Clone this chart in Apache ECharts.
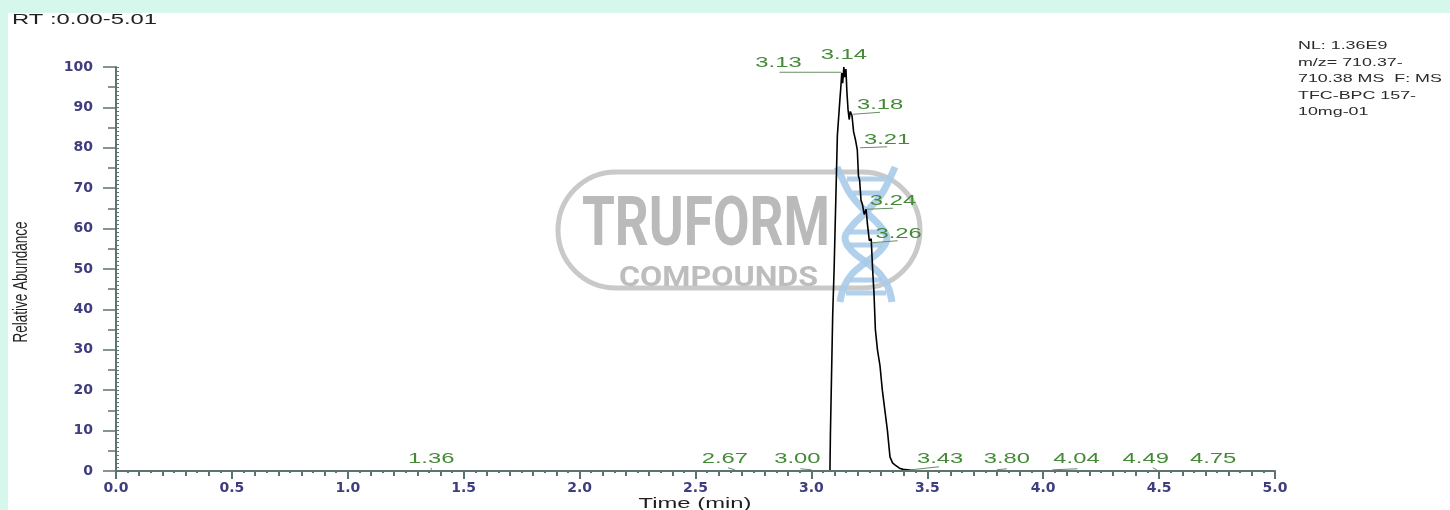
<!DOCTYPE html>
<html>
<head>
<meta charset="utf-8">
<script src="https://cdn.jsdelivr.net/npm/echarts@6/dist/echarts.min.js"></script>
<style>
  html, body { margin: 0; padding: 0; background: #d5f7ec; width: 1450px; height: 510px; overflow: hidden; }
  #wb { position: absolute; left: 8px; top: 13px; width: 1442px; height: 497px; background: #ffffff; }
  #chart { position: absolute; left: 0; top: 0; width: 1450px; height: 510px; }
</style>
</head>
<body>
<div id="wb"></div>
<div id="chart"></div>
<script>
// ---- data ----
const times = [0, 3.080, 3.082, 3.092, 3.098, 3.112, 3.123, 3.127, 3.131, 3.135, 3.140, 3.144, 3.149, 3.153, 3.158, 3.163, 3.168, 3.175, 3.182, 3.190, 3.198, 3.203, 3.208, 3.214, 3.220, 3.228, 3.236, 3.242, 3.250, 3.258, 3.264, 3.270, 3.276, 3.285, 3.296, 3.306, 3.317, 3.328, 3.339, 3.350, 3.360, 3.380, 3.396, 3.440, 3.493, 5.0];
const abundance = [0, 0, 9, 39, 50, 83, 92, 95, 98.5, 96, 100, 97.5, 99.5, 94, 89.5, 87, 89, 88, 84, 82, 79.5, 73, 72, 67, 66, 63.5, 64.8, 61, 57, 57.5, 50, 44, 35, 30, 26, 20, 15, 10, 3.5, 2, 1.5, 0.7, 0.4, 0.1, 0, 0];

const peakRT = [3.13, 3.14, 3.18, 3.21, 3.24, 3.26, 1.36, 2.67, 3.00, 3.43, 3.80, 4.04, 4.49, 4.75];
const peakAbund = [98.7, 100, 88.3, 80, 64.8, 56.5, 0.3, 0.3, 0.3, 0.3, 0.3, 0.3, 0.3, 0.3];
const peakText = ['3.13', '3.14', '3.18', '3.21', '3.24', '3.26', '1.36', '2.67', '3.00', '3.43', '3.80', '4.04', '4.49', '4.75'];

const headerText = 'RT :0.00-5.01';
const infoLines = ['NL: 1.36E9', 'm/z= 710.37-', '710.38 MS  F: MS', 'TFC-BPC 157-', '10mg-01'];
const xAxisTitle = 'Time (min)';
const yAxisTitle = 'Relative Abundance';

// ---- styles (pixel offsets of label text / leader line from each peak apex) ----
const labelStyle = [
  { tx: -63, ty: -9, lx: -62, ly: 0 },
  { tx: 0, ty: -12, lx: 0, ly: 0 },
  { tx: 27, ty: -9, lx: 27, ly: -2 },
  { tx: 27, ty: -8, lx: 27, ly: -1 },
  { tx: 26, ty: -8, lx: 26, ly: -1 },
  { tx: 27, ty: -9, lx: 26, ly: -2 },
  { tx: 0, ty: -11, lx: 0, ly: -2 },
  { tx: -10, ty: -11, lx: -7, ly: -2 },
  { tx: -14, ty: -11, lx: -11, ly: -1 },
  { tx: 29, ty: -11, lx: 28, ly: -3 },
  { tx: 10, ty: -11, lx: 10, ly: -1 },
  { tx: 24, ty: -11, lx: 25, ly: -1 },
  { tx: -11, ty: -11, lx: -4, ly: -2 },
  { tx: -4, ty: -11, lx: 0, ly: 0 }
];

const axisColor = '#5d7371';
const tickLabelColor = '#3e3d7e';
const peakLabelColor = '#458a38';
const leaderColor = '#6a8c64';
const dnaColor = '#a9cbe9';
const STRETCH = 1.7;

const chart = echarts.init(document.getElementById('chart'), null, { renderer: 'canvas' });

const GRID = { left: 116, top: 67, width: 1159, height: 404 };

// DNA strand outline points (decorative watermark)
const dnaA = [[837,167],[842,178],[851,195],[866,212],[880,226],[887,238],[880,251],[866,262],[852,274],[844,287],[840,302]];
const dnaB = dnaA.map(p => [1732 - p[0], p[1]]);
const dnaRungs = [[847,179,885,179],[853,193,879,193],[850,232,882,232],[850,245,882,245],[850,280,882,280],[846,293,886,293]];

const graphics = [
  { type: 'rect', z: 1, silent: true, shape: { x: 558, y: 172, width: 362, height: 116, r: 58 },
    style: { fill: 'none', stroke: '#c9c9c9', lineWidth: 5 } },
  { type: 'text', z: 1, silent: true, x: 582, y: 228, scaleX: 0.78,
    style: { text: 'TRUFORM', font: 'bold 68px Roboto', fill: '#bababa', align: 'left', verticalAlign: 'middle', textAlign: 'left', textVerticalAlign: 'middle' } },
  { type: 'text', z: 1, silent: true, x: 619, y: 279, scaleX: 1.15,
    style: { text: 'COMPOUNDS', font: 'bold 28px Roboto', fill: '#bdbdbd', align: 'left', verticalAlign: 'middle', textAlign: 'left', textVerticalAlign: 'middle' } },
  { type: 'polyline', z: 1, silent: true, shape: { points: dnaA, smooth: 0.4 },
    style: { stroke: dnaColor, lineWidth: 7, fill: 'none', opacity: 0.9 } },
  { type: 'polyline', z: 1, silent: true, shape: { points: dnaB, smooth: 0.4 },
    style: { stroke: dnaColor, lineWidth: 7, fill: 'none', opacity: 0.9 } }
];
dnaRungs.forEach(r => graphics.push({ type: 'line', z: 1, silent: true,
  shape: { x1: r[0], y1: r[1], x2: r[2], y2: r[3] }, style: { stroke: dnaColor, lineWidth: 5, opacity: 0.9 } }));
graphics.push(
  { type: 'text', z: 10, x: 12, y: 20, scaleX: STRETCH,
    style: { text: headerText, font: '14px "Liberation Sans"', fill: '#222222', align: 'left', verticalAlign: 'middle', textAlign: 'left', textVerticalAlign: 'middle' } },
  { type: 'text', z: 10, x: 1298, y: 38, scaleX: STRETCH,
    style: { text: infoLines.join('\n'), font: '10.5px "Liberation Sans"', lineHeight: 16.5, fill: '#2a2a2a', align: 'left', verticalAlign: 'top', textAlign: 'left', textVerticalAlign: 'top' } },
  { type: 'text', z: 10, x: 695, y: 504, scaleX: STRETCH,
    style: { text: xAxisTitle, font: '14px "Liberation Sans"', fill: '#1e1e1e', align: 'center', verticalAlign: 'middle', textAlign: 'center', textVerticalAlign: 'middle' } },
  { type: 'text', z: 10, x: 21, y: 282, rotation: Math.PI / 2, scaleY: 1.5,
    style: { text: yAxisTitle, font: '13.5px "Liberation Sans"', fill: '#1e1e1e', align: 'center', verticalAlign: 'middle', textAlign: 'center', textVerticalAlign: 'middle' } }
);

const option = {
  backgroundColor: 'transparent',
  animation: false,
  grid: GRID,
  xAxis: [
    {
      type: 'value', min: 0, max: 5, interval: 0.5, position: 'bottom', z: 5,
      axisLine: { show: true, onZero: false, lineStyle: { color: axisColor, width: 2 } },
      axisTick: { show: true, length: 8, lineStyle: { color: axisColor, width: 2 } },
      axisLabel: { margin: 10, color: tickLabelColor, fontFamily: 'DejaVu Sans', fontWeight: 'bold', fontSize: 14,
        formatter: v => v.toFixed(1) },
      splitLine: { show: false }
    },
    {
      type: 'value', min: 0, max: 5, interval: 0.1, position: 'bottom', z: 5,
      axisLine: { show: false, onZero: false },
      axisTick: { show: true, length: 5, lineStyle: { color: axisColor, width: 2 } },
      minorTick: { show: true, splitNumber: 2, length: 2, lineStyle: { color: axisColor, width: 2 } },
      axisLabel: { show: false },
      splitLine: { show: false }
    }
  ],
  yAxis: [
    {
      type: 'value', min: 0, max: 100, interval: 10, position: 'left', z: 5,
      axisLine: { show: true, onZero: false, lineStyle: { color: axisColor, width: 2 } },
      axisTick: { show: true, length: 13, lineStyle: { color: axisColor, width: 1.5 } },
      axisLabel: { margin: 23, color: tickLabelColor, fontFamily: 'DejaVu Sans', fontWeight: 'bold', fontSize: 14 },
      splitLine: { show: false }
    },
    {
      type: 'value', min: 0, max: 100, interval: 5, position: 'left', z: 5,
      axisLine: { show: false, onZero: false },
      axisTick: { show: true, length: 8, lineStyle: { color: axisColor, width: 1.5 } },
      axisLabel: { show: false },
      splitLine: { show: false }
    },
    {
      type: 'value', min: 0, max: 100, interval: 1, position: 'left', z: 5,
      axisLine: { show: false, onZero: false },
      axisTick: { show: true, inside: true, length: 3, lineStyle: { color: axisColor, width: 1 } },
      axisLabel: { show: false },
      splitLine: { show: false }
    }
  ],
  graphic: graphics,
  series: [
    {
      type: 'line',
      xAxisIndex: 0, yAxisIndex: 0,
      data: times.map((t, i) => [t, abundance[i]]),
      showSymbol: false, symbol: 'none',
      lineStyle: { color: '#000000', width: 1.6 },
      z: 2
    },
    {
      type: 'custom',
      xAxisIndex: 0, yAxisIndex: 0,
      coordinateSystem: 'cartesian2d',
      z: 6,
      data: peakRT.map((t, i) => [t, peakAbund[i], i]),
      renderItem: function (params, api) {
        const p = api.coord([api.value(0), api.value(1)]);
        const i = api.value(2);
        const s = labelStyle[i];
        const children = [];
        if (s.lx !== 0 || s.ly !== 0) {
          children.push({ type: 'line', shape: { x1: p[0], y1: p[1], x2: p[0] + s.lx, y2: p[1] + s.ly },
            style: { stroke: leaderColor, lineWidth: 1 } });
        }
        children.push({ type: 'text', x: p[0] + s.tx, y: p[1] + s.ty, scaleX: STRETCH,
          style: { text: peakText[i], font: '14px "Liberation Sans"', fill: peakLabelColor,
            align: 'center', verticalAlign: 'middle', textAlign: 'center', textVerticalAlign: 'middle' } });
        return { type: 'group', children: children };
      }
    }
  ]
};
chart.setOption(option);
</script>
</body>
</html>
